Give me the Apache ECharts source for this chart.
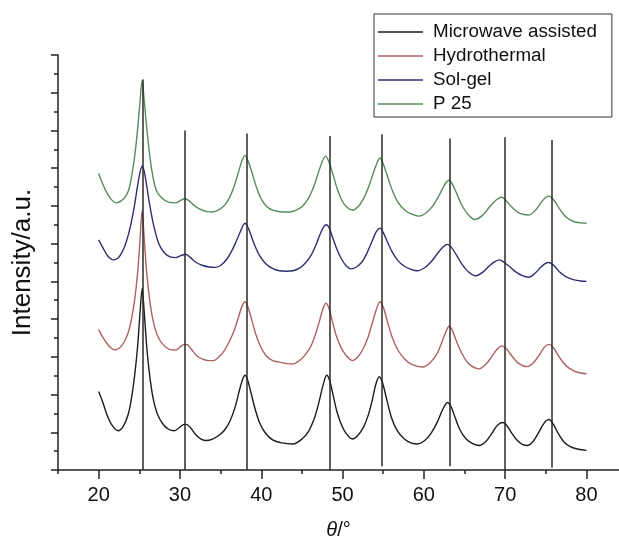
<!DOCTYPE html>
<html>
<head>
<meta charset="utf-8">
<script src="https://cdn.jsdelivr.net/npm/echarts@6/dist/echarts.min.js"></script>
<style>html,body{margin:0;padding:0;background:#fff}#c{width:619px;height:545px}</style>
</head>
<body>
<div id="c"></div>
<script>
// ---- data (x = theta in degrees, y = intensity in arbitrary units) ----
const seriesNames = ['Microwave assisted', 'Hydrothermal', 'Sol-gel', 'P 25'];
const xTickLabels = [20, 30, 40, 50, 60, 70, 80];
const xMinorTicks = [15, 25, 35, 45, 55, 65, 75];

const microwave = [
[20.0,2.08],[20.5,1.80],[21.0,1.48],[21.6,1.20],[22.4,1.04],[23.0,1.15],[23.6,1.45],[24.0,1.85],[24.45,2.55],
[24.8,3.30],[25.1,4.20],[25.35,4.81],[25.6,4.20],[25.9,3.30],[26.25,2.55],[26.7,1.90],[27.2,1.50],[27.9,1.22],
[28.6,1.08],[29.3,1.04],[29.9,1.12],[30.4,1.20],[30.8,1.21],[31.3,1.12],[32.0,0.92],[32.6,0.82],[33.2,0.78],
[34.0,0.82],[34.8,0.92],[35.5,1.06],[36.2,1.32],[36.8,1.68],[37.3,2.10],[37.7,2.40],[38.0,2.51],[38.3,2.40],
[38.7,2.08],[39.2,1.65],[39.8,1.25],[40.5,0.98],[41.4,0.80],[42.5,0.72],[43.9,0.69],[45.0,0.82],[45.8,1.02],
[46.5,1.35],[47.1,1.80],[47.6,2.25],[48.05,2.51],[48.4,2.38],[48.8,2.02],[49.3,1.55],[49.9,1.18],[50.5,0.95],
[51.2,0.82],[51.9,0.92],[52.6,1.15],[53.2,1.48],[53.7,1.90],[54.1,2.28],[54.5,2.47],[54.9,2.32],[55.4,1.90],
[56.0,1.40],[56.7,1.05],[57.6,0.82],[58.4,0.72],[59.2,0.69],[60.1,0.78],[60.9,0.98],[61.6,1.25],[62.2,1.55],
[62.6,1.72],[62.9,1.79],[63.3,1.70],[63.8,1.42],[64.4,1.08],[65.2,0.82],[66.0,0.70],[66.8,0.65],[67.6,0.75],
[68.3,0.95],[68.9,1.15],[69.4,1.24],[69.75,1.26],[70.2,1.18],[70.8,0.98],[71.5,0.78],[72.1,0.68],[72.75,0.65],
[73.4,0.75],[74.0,0.95],[74.6,1.18],[75.0,1.30],[75.4,1.34],[75.9,1.22],[76.5,0.98],[77.2,0.75],[78.0,0.62],
[79.0,0.55],[80.0,0.52]
];
const hydrothermal = [
[20.0,3.72],[20.5,3.52],[21.0,3.36],[21.5,3.24],[22.0,3.18],[22.6,3.24],[23.1,3.38],[23.6,3.62],[24.0,3.95],
[24.45,4.55],[24.8,5.25],[25.1,6.15],[25.35,6.87],[25.6,6.15],[25.9,5.25],[26.25,4.55],[26.7,3.95],[27.2,3.58],
[27.9,3.33],[28.7,3.20],[29.5,3.18],[30.0,3.26],[30.5,3.33],[30.9,3.32],[31.4,3.20],[32.1,3.02],[32.8,2.94],
[33.5,2.90],[34.1,2.90],[34.8,3.00],[35.5,3.18],[36.1,3.42],[36.7,3.72],[37.2,4.05],[37.65,4.35],[38.0,4.46],
[38.35,4.33],[38.8,4.00],[39.3,3.62],[39.9,3.28],[40.6,3.03],[41.4,2.90],[42.2,2.86],[43.2,2.82],[43.9,2.81],
[44.7,2.90],[45.4,3.05],[46.1,3.28],[46.7,3.62],[47.2,3.98],[47.6,4.28],[47.97,4.42],[48.3,4.30],[48.7,3.98],
[49.2,3.58],[49.8,3.25],[50.5,3.02],[51.2,2.90],[51.9,3.00],[52.5,3.20],[53.1,3.50],[53.6,3.85],[54.1,4.22],
[54.6,4.46],[55.0,4.32],[55.5,3.95],[56.1,3.52],[56.8,3.18],[57.6,2.95],[58.5,2.80],[59.85,2.73],[60.8,2.85],
[61.6,3.08],[62.2,3.38],[62.7,3.66],[63.1,3.81],[63.5,3.70],[64.0,3.42],[64.7,3.08],[65.5,2.82],[66.8,2.68],
[67.7,2.82],[68.4,3.02],[69.0,3.20],[69.6,3.29],[70.2,3.20],[70.9,3.00],[71.7,2.82],[72.7,2.74],[73.5,2.85],
[74.2,3.05],[74.8,3.25],[75.4,3.33],[76.0,3.22],[76.7,2.98],[77.5,2.76],[78.5,2.62],[79.3,2.57],[80.0,2.55]
];
const solgel = [
[20.0,6.10],[20.5,5.90],[21.1,5.68],[21.8,5.57],[22.4,5.62],[22.9,5.78],[23.4,6.05],[23.9,6.45],[24.4,7.00],
[24.8,7.55],[25.1,7.90],[25.35,8.06],[25.6,7.92],[25.9,7.55],[26.3,7.00],[26.8,6.45],[27.4,6.00],[28.1,5.75],
[28.8,5.65],[29.5,5.63],[30.1,5.68],[30.7,5.72],[31.3,5.63],[32.0,5.50],[32.8,5.42],[33.6,5.38],[34.4,5.37],
[35.1,5.44],[35.8,5.60],[36.4,5.82],[36.9,6.05],[37.4,6.30],[37.75,6.48],[38.0,6.54],[38.3,6.46],[38.7,6.25],
[39.2,5.95],[39.8,5.68],[40.5,5.48],[41.3,5.35],[42.2,5.28],[43.1,5.27],[43.9,5.28],[44.7,5.35],[45.4,5.48],
[46.1,5.68],[46.7,5.95],[47.3,6.28],[47.7,6.45],[48.0,6.50],[48.35,6.42],[48.8,6.15],[49.3,5.85],[49.9,5.58],
[50.5,5.40],[51.05,5.33],[51.7,5.38],[52.4,5.52],[53.0,5.75],[53.6,6.05],[54.1,6.30],[54.6,6.41],[55.0,6.30],
[55.5,6.05],[56.1,5.78],[56.8,5.55],[57.6,5.40],[58.4,5.32],[59.2,5.28],[60.1,5.36],[60.9,5.52],[61.6,5.72],
[62.3,5.90],[62.9,5.98],[63.4,5.90],[64.0,5.70],[64.7,5.45],[65.5,5.25],[66.4,5.15],[67.3,5.25],[68.1,5.42],
[68.8,5.53],[69.3,5.57],[69.9,5.50],[70.6,5.38],[71.3,5.25],[72.1,5.15],[72.9,5.11],[73.7,5.22],[74.4,5.38],
[74.9,5.47],[75.4,5.50],[76.0,5.42],[76.7,5.25],[77.5,5.12],[78.5,5.04],[79.3,5.01],[80.0,5.00]
];
const p25 = [
[20.0,7.86],[20.5,7.58],[21.0,7.35],[21.6,7.16],[22.2,7.08],[22.8,7.14],[23.4,7.28],[23.8,7.50],[24.1,7.85],
[24.45,8.35],[24.8,9.05],[25.1,9.80],[25.35,10.33],[25.6,9.80],[25.9,9.10],[26.3,8.30],[26.7,7.75],[27.1,7.41],
[27.8,7.20],[28.6,7.10],[29.5,7.08],[30.1,7.15],[30.6,7.19],[31.1,7.14],[31.8,7.00],[32.6,6.90],[33.3,6.85],
[34.0,6.84],[34.8,6.90],[35.5,7.02],[36.1,7.22],[36.6,7.48],[37.1,7.82],[37.55,8.15],[38.0,8.34],[38.4,8.18],
[38.9,7.85],[39.4,7.50],[40.0,7.18],[40.7,6.98],[41.5,6.88],[42.6,6.84],[43.5,6.84],[44.3,6.89],[45.1,7.00],
[45.8,7.20],[46.4,7.48],[46.9,7.80],[47.4,8.12],[47.9,8.32],[48.3,8.18],[48.8,7.85],[49.3,7.48],[49.9,7.15],
[50.5,6.97],[51.2,6.89],[51.9,6.98],[52.6,7.20],[53.2,7.50],[53.7,7.82],[54.2,8.12],[54.6,8.27],[55.0,8.12],
[55.5,7.80],[56.1,7.42],[56.8,7.10],[57.6,6.90],[58.5,6.78],[59.4,6.73],[60.3,6.82],[61.1,7.00],[61.8,7.25],
[62.4,7.50],[62.8,7.64],[63.1,7.68],[63.5,7.58],[64.0,7.35],[64.6,7.05],[65.4,6.78],[66.3,6.64],[67.2,6.75],
[68.0,6.95],[68.7,7.12],[69.2,7.20],[69.6,7.23],[70.2,7.12],[70.9,6.95],[71.8,6.80],[72.9,6.76],[73.7,6.88],
[74.4,7.08],[74.9,7.21],[75.4,7.26],[76.0,7.15],[76.7,6.92],[77.5,6.70],[78.5,6.58],[79.3,6.55],[80.0,6.54]
];

// reference (peak position) lines
const refPos    = [25.4, 30.6, 38.2, 48.4, 54.8, 63.2, 70.0, 75.7];
const refTop    = [10.35, 9.0, 8.92, 8.85, 8.9, 8.79, 8.82, 8.75];
const refBottom = [0, 0, 0, 0, 0.1, 0.1, 0, 0.06];

// ---- chart ----
const colors = ['#1c1c1c', '#ad6262', '#2e2f72', '#568c5c'];
const seriesData = [microwave, hydrothermal, solgel, p25];
const axisColor = '#222';

const chart = echarts.init(document.getElementById('c'), null, {renderer: 'canvas'});
const series = seriesNames.map((name, i) => ({
  name: name, type: 'line', data: seriesData[i], symbol: 'none', showSymbol: false, smooth: 0.3,
  lineStyle: {color: colors[i], width: 1.4}, itemStyle: {color: colors[i]}, z: 2
}));
series.push({
  name: 'ref', type: 'line', data: [], symbol: 'none', z: 5,
  markLine: {
    silent: true, symbol: ['none', 'none'], label: {show: false},
    lineStyle: {color: '#2a2a2a', width: 1.5, type: 'solid'},
    emphasis: {disabled: true},
    data: refPos.map((p, i) => [{coord: [p, refBottom[i]]}, {coord: [p, refTop[i]]}])
  }
});

chart.setOption({
  animation: false,
  backgroundColor: '#fff',
  textStyle: {fontFamily: 'Liberation Sans, Arial, sans-serif'},
  grid: {left: 58, right: 0, top: 55, bottom: 67, containLabel: false},
  legend: {
    data: seriesNames, orient: 'vertical', left: 374, top: 14,
    icon: 'rect', itemWidth: 45, itemHeight: 1.6, itemGap: 4,
    padding: [8, 15, 3, 4],
    borderColor: '#333', borderWidth: 1,
    textStyle: {fontSize: 18.8, color: '#111', lineHeight: 20, padding: [0, 0, 0, 5]}
  },
  xAxis: [{
    type: 'value', min: 15, max: 84,
    name: '{i|θ}/°', nameLocation: 'middle', nameGap: 50,
    nameTextStyle: {fontSize: 20, color: '#111', rich: {i: {fontStyle: 'italic', fontSize: 20}}},
    axisLine: {show: true, onZero: false, lineStyle: {color: axisColor, width: 1.5}},
    axisTick: {show: true, customValues: xTickLabels, length: 9, lineStyle: {color: axisColor, width: 1.5}},
    axisLabel: {customValues: xTickLabels, fontSize: 20, color: '#111', margin: 15},
    splitLine: {show: false}
  }, {
    type: 'value', min: 15, max: 84, position: 'bottom',
    axisLine: {show: false},
    axisTick: {show: true, customValues: xMinorTicks, length: 4, lineStyle: {color: axisColor, width: 1.5}},
    axisLabel: {show: false}, splitLine: {show: false}
  }],
  yAxis: {
    type: 'value', min: 0, max: 11, interval: 1,
    name: 'Intensity/a.u.', nameLocation: 'middle', nameGap: 22, nameRotate: 90,
    nameTextStyle: {fontSize: 26, color: '#111'},
    axisLine: {show: true, onZero: false, lineStyle: {color: axisColor, width: 1.5}},
    axisTick: {show: true, length: 7, lineStyle: {color: axisColor, width: 1.5}},
    minorTick: {show: true, splitNumber: 2, length: 4, lineStyle: {color: axisColor, width: 1.5}},
    axisLabel: {show: false}, splitLine: {show: false}, minorSplitLine: {show: false}
  },
  series: series
});
</script>
</body>
</html>
